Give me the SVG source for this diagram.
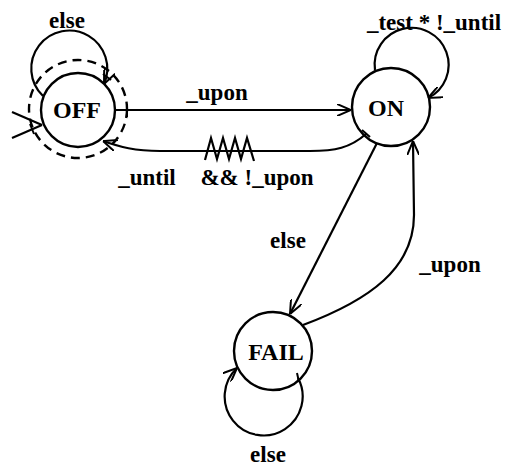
<svg xmlns="http://www.w3.org/2000/svg" width="514" height="468" viewBox="0 0 514 468">
<defs>
<style>
.node{fill:none;stroke:#000;stroke-width:2.4}
.dash{fill:none;stroke:#000;stroke-width:2.4;stroke-dasharray:9 6}
.edge{fill:none;stroke:#000;stroke-width:2.2}
.tick{stroke:#000;stroke-width:2}
.nl{font-family:"Liberation Serif",serif;font-weight:bold;font-size:24px;text-anchor:middle}
.el{font-family:"Liberation Serif",serif;font-weight:bold;font-size:23px}
</style>
<marker id="arr" viewBox="0 0 14 12" refX="14" refY="6" markerWidth="14" markerHeight="12" markerUnits="userSpaceOnUse" orient="auto">
<path d="M0,0 L14,6 L0,12" fill="none" stroke="#000" stroke-width="2"/>
</marker>
</defs>
<rect width="514" height="468" fill="#fff"/>
<g id="connectors">
<path class="edge" d="M43,96 A38,38 0 1 1 104,84" marker-end="url(#arr)"/>
<line class="tick" x1="103" y1="74" x2="111" y2="80"/>
<line class="edge" x1="12" y1="112" x2="42" y2="125"/>
<line class="edge" x1="12" y1="138" x2="42" y2="125"/>
<line class="tick" x1="30" y1="124" x2="34" y2="134"/>
<line class="edge" x1="115" y1="110" x2="351" y2="110" marker-end="url(#arr)"/>
<line class="tick" x1="127" y1="104" x2="127" y2="117"/>
<path class="edge" d="M366,134 C350,148 335,151 310,151 L160,151 C135,151 120,147 103,141" marker-end="url(#arr)"/>
<polyline class="edge" points="205,160 211,138 217,159 223,138 229,159 235,138 241,159 247,138 254,161"/>
<line class="tick" x1="362" y1="130" x2="370" y2="137"/>
<path class="edge" d="M375,70 A37,37 0 1 1 428,98" marker-end="url(#arr)"/>
<line class="edge" x1="377" y1="143" x2="290" y2="314" marker-end="url(#arr)"/>
<path class="edge" d="M303,325 C370,300 414,268 414,215 L413,141" marker-end="url(#arr)"/>
<path class="edge" d="M298,378 A39,39 0 1 1 237,368" marker-end="url(#arr)"/>
<line class="tick" x1="297" y1="373" x2="299" y2="382"/>
</g>
<g id="OFF">
<circle class="dash" cx="78" cy="109" r="49"/>
<circle class="node" cx="78" cy="110" r="37"/>
<text class="nl" x="77" y="118">OFF</text>
</g>
<g id="ON">
<circle class="node" cx="391" cy="107" r="39"/>
<text class="nl" x="386" y="116">ON</text>
</g>
<g id="FAIL">
<circle class="node" cx="273" cy="351" r="39"/>
<text class="nl" x="276" y="360">FAIL</text>
</g>
<g id="labels">
<text class="el" x="67" y="28" text-anchor="middle">else</text>
<text class="el" x="217" y="100" text-anchor="middle">_upon</text>
<text class="el" x="434" y="30" text-anchor="middle">_test * !_until</text>
<text class="el" x="147" y="185" text-anchor="middle">_until</text>
<text class="el" x="257" y="185" text-anchor="middle">&amp;&amp; !_upon</text>
<text class="el" x="288" y="248" text-anchor="middle">else</text>
<text class="el" x="450" y="272" text-anchor="middle">_upon</text>
<text class="el" x="268" y="462" text-anchor="middle">else</text>
</g>
</svg>
